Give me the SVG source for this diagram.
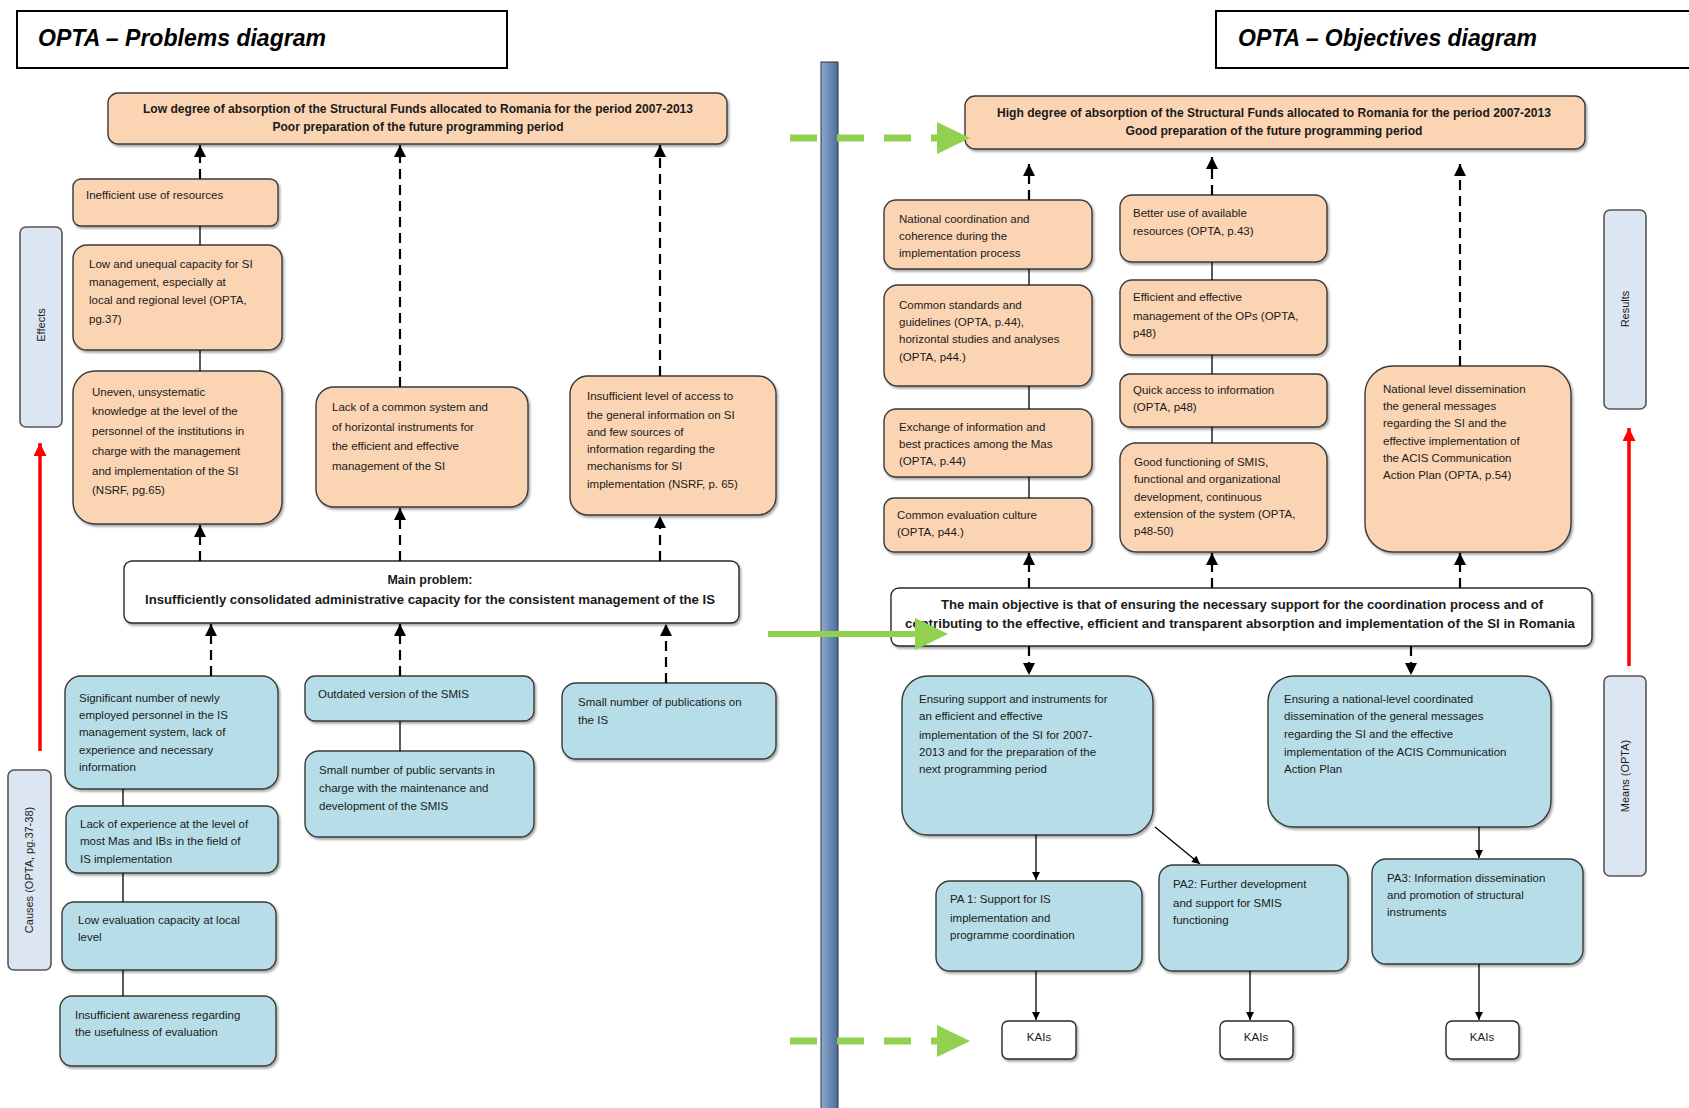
<svg xmlns="http://www.w3.org/2000/svg" width="1689" height="1108" viewBox="0 0 1689 1108">
<defs>
<style>
.o{fill:#fbd4b4;stroke:#3a3a3a;stroke-width:1.4;filter:url(#sh)}
.b{fill:#b7dee8;stroke:#3a3a3a;stroke-width:1.4;filter:url(#sh)}
.w{fill:#ffffff;stroke:#2a2a2a;stroke-width:1.4;filter:url(#sh)}
.lb{fill:#dce6f2;stroke:#555;stroke-width:1.6}
.t{font-family:"Liberation Sans",Arial,sans-serif;font-size:11.5px;fill:#1a1a1a}
.tb{font-family:"Liberation Sans",Arial,sans-serif;font-size:12px;font-weight:bold;fill:#1a1a1a}
.lt{font-family:"Liberation Sans",Arial,sans-serif;font-size:11px;fill:#1a1a1a}
.ti{font-family:"Liberation Sans",Arial,sans-serif;font-size:23px;font-weight:bold;font-style:italic;fill:#000}
.da{stroke:#000;stroke-width:2.2;stroke-dasharray:10 6;fill:none;marker-end:url(#ah)}
.sl{stroke:#000;stroke-width:1.3;fill:none}
.ta{stroke:#000;stroke-width:1.3;fill:none;marker-end:url(#ah2)}
.ra{stroke:#ff0000;stroke-width:3.5;fill:none;marker-end:url(#ahr)}
.gd{stroke:#92d050;stroke-width:7;stroke-dasharray:27 20;fill:none}
.gs{stroke:#92d050;stroke-width:6;fill:none}
.gh{fill:#92d050}
</style>
<filter id="sh" x="-5%" y="-5%" width="115%" height="120%">
<feDropShadow dx="1.5" dy="2" stdDeviation="1" flood-color="#000" flood-opacity="0.35"/>
</filter>
<marker id="ah" viewBox="0 0 10 10" refX="10" refY="5" markerWidth="15" markerHeight="12" markerUnits="userSpaceOnUse" orient="auto"><path d="M0,0 L10,5 L0,10 z" fill="#000"/></marker>
<marker id="ah2" viewBox="0 0 10 10" refX="10" refY="5" markerWidth="10" markerHeight="8" markerUnits="userSpaceOnUse" orient="auto"><path d="M0,0 L10,5 L0,10 z" fill="#000"/></marker>
<marker id="ahr" viewBox="0 0 10 10" refX="10" refY="5" markerWidth="13" markerHeight="13" markerUnits="userSpaceOnUse" orient="auto"><path d="M0,0 L10,5 L0,10 z" fill="#ff0000"/></marker>
<linearGradient id="bar" x1="0" y1="0" x2="1" y2="0">
<stop offset="0" stop-color="#8fa9d0"/>
<stop offset="1" stop-color="#4d6c9c"/>
</linearGradient>
</defs>
<rect width="1689" height="1108" fill="#ffffff"/>

<g id="title-left"><rect x="17" y="11" width="490" height="57" fill="#fff" stroke="#000" stroke-width="2"/><text class="ti" x="38" y="46" textLength="288" lengthAdjust="spacingAndGlyphs">OPTA – Problems diagram</text></g>
<g id="title-right"><rect x="1216" y="11" width="480" height="57" fill="#fff" stroke="#000" stroke-width="2"/><text class="ti" x="1238" y="46" textLength="299" lengthAdjust="spacingAndGlyphs">OPTA – Objectives diagram</text></g>

<g id="divider"><rect x="821" y="62" width="17" height="1050" fill="url(#bar)" stroke="#333" stroke-width="1"/></g>

<g id="effects-label"><rect class="lb" x="20" y="227" width="42" height="200" rx="6"/><text class="lt" transform="translate(45,325) rotate(-90)" text-anchor="middle">Effects</text></g>
<g id="causes-label"><rect class="lb" x="8" y="770" width="43" height="200" rx="6"/><text class="lt" transform="translate(33,870) rotate(-90)" text-anchor="middle">Causes (OPTA, pg.37-38)</text></g>
<g id="results-label"><rect class="lb" x="1604" y="210" width="42" height="199" rx="6"/><text class="lt" transform="translate(1629,309) rotate(-90)" text-anchor="middle">Results</text></g>
<g id="means-label"><rect class="lb" x="1604" y="676" width="42" height="200" rx="6"/><text class="lt" transform="translate(1629,776) rotate(-90)" text-anchor="middle">Means (OPTA)</text></g>

<g id="top-left"><rect class="o" x="108" y="93" width="619" height="51" rx="10"/><text class="tb" text-anchor="middle"><tspan x="418" y="113" textLength="550" lengthAdjust="spacingAndGlyphs">Low degree of absorption of the Structural Funds allocated to Romania for the period 2007-2013</tspan><tspan x="418" y="131" textLength="291" lengthAdjust="spacingAndGlyphs">Poor preparation of the future programming period</tspan></text></g>
<g id="e1"><rect class="o" x="73" y="179" width="205" height="47" rx="8"/><text class="t" x="86" y="199">Inefficient use of resources</text></g>
<g id="e2"><rect class="o" x="73" y="245" width="209" height="105" rx="14"/><text class="t"><tspan x="89" y="268">Low and unequal capacity for SI</tspan><tspan x="89" y="286">management, especially at</tspan><tspan x="89" y="304">local and regional level (OPTA,</tspan><tspan x="89" y="323">pg.37)</tspan></text></g>
<g id="e3"><rect class="o" x="73" y="371" width="209" height="153" rx="22"/><text class="t"><tspan x="92" y="396">Uneven, unsystematic</tspan><tspan x="92" y="415">knowledge at the level of the</tspan><tspan x="92" y="435">personnel of the institutions in</tspan><tspan x="92" y="455">charge with the management</tspan><tspan x="92" y="475">and implementation of the SI</tspan><tspan x="92" y="494">(NSRF, pg.65)</tspan></text></g>
<g id="e4"><rect class="o" x="316" y="387" width="212" height="120" rx="18"/><text class="t"><tspan x="332" y="411">Lack of a common system and</tspan><tspan x="332" y="431">of horizontal instruments for</tspan><tspan x="332" y="450">the efficient and effective</tspan><tspan x="332" y="470">management of the SI</tspan></text></g>
<g id="e5"><rect class="o" x="570" y="376" width="206" height="139" rx="18"/><text class="t"><tspan x="587" y="400">Insufficient level of access to</tspan><tspan x="587" y="419">the general information on SI</tspan><tspan x="587" y="436">and few sources of</tspan><tspan x="587" y="453">information regarding the</tspan><tspan x="587" y="470">mechanisms for SI</tspan><tspan x="587" y="488">implementation (NSRF, p. 65)</tspan></text></g>
<g id="main-problem"><rect class="w" x="124" y="561" width="615" height="62" rx="8"/><text class="tb" text-anchor="middle"><tspan x="430" y="584" textLength="85" lengthAdjust="spacingAndGlyphs">Main problem:</tspan><tspan x="430" y="604" textLength="570" lengthAdjust="spacingAndGlyphs">Insufficiently consolidated administrative capacity for the consistent management of the IS</tspan></text></g>
<g id="c1"><rect class="b" x="65" y="676" width="213" height="113" rx="16"/><text class="t"><tspan x="79" y="702">Significant number of newly</tspan><tspan x="79" y="719">employed personnel in the IS</tspan><tspan x="79" y="736">management system, lack of</tspan><tspan x="79" y="754">experience and necessary</tspan><tspan x="79" y="771">information</tspan></text></g>
<g id="c2"><rect class="b" x="66" y="806" width="212" height="67" rx="12"/><text class="t"><tspan x="80" y="828">Lack of experience at the level of</tspan><tspan x="80" y="845">most Mas and IBs in the field of</tspan><tspan x="80" y="863">IS implementation</tspan></text></g>
<g id="c3"><rect class="b" x="62" y="902" width="214" height="68" rx="12"/><text class="t"><tspan x="78" y="924">Low evaluation capacity at local</tspan><tspan x="78" y="941">level</tspan></text></g>
<g id="c4"><rect class="b" x="60" y="996" width="216" height="70" rx="12"/><text class="t"><tspan x="75" y="1019">Insufficient awareness regarding</tspan><tspan x="75" y="1036">the usefulness of evaluation</tspan></text></g>
<g id="c5"><rect class="b" x="305" y="676" width="229" height="45" rx="10"/><text class="t" x="318" y="698">Outdated version of the SMIS</text></g>
<g id="c6"><rect class="b" x="305" y="751" width="229" height="86" rx="14"/><text class="t"><tspan x="319" y="774">Small number of public servants in</tspan><tspan x="319" y="792">charge with the maintenance and</tspan><tspan x="319" y="810">development of the SMIS</tspan></text></g>
<g id="c7"><rect class="b" x="562" y="683" width="214" height="76" rx="14"/><text class="t"><tspan x="578" y="706">Small number of publications on</tspan><tspan x="578" y="724">the IS</tspan></text></g>

<g id="top-right"><rect class="o" x="965" y="96" width="620" height="53" rx="10"/><text class="tb" text-anchor="middle"><tspan x="1274" y="117" textLength="554" lengthAdjust="spacingAndGlyphs">High degree of absorption of the Structural Funds allocated to Romania for the period 2007-2013</tspan><tspan x="1274" y="135" textLength="297" lengthAdjust="spacingAndGlyphs">Good preparation of the future programming period</tspan></text></g>
<g id="r1"><rect class="o" x="884" y="200" width="208" height="69" rx="12"/><text class="t"><tspan x="899" y="223">National coordination and</tspan><tspan x="899" y="240">coherence during the</tspan><tspan x="899" y="257">implementation process</tspan></text></g>
<g id="r2"><rect class="o" x="884" y="285" width="208" height="101" rx="14"/><text class="t"><tspan x="899" y="309">Common standards and</tspan><tspan x="899" y="326">guidelines (OPTA, p.44),</tspan><tspan x="899" y="343">horizontal studies and analyses</tspan><tspan x="899" y="361">(OPTA, p44.)</tspan></text></g>
<g id="r3"><rect class="o" x="884" y="409" width="208" height="68" rx="12"/><text class="t"><tspan x="899" y="431">Exchange of information and</tspan><tspan x="899" y="448">best practices among the Mas</tspan><tspan x="899" y="465">(OPTA, p.44)</tspan></text></g>
<g id="r4"><rect class="o" x="884" y="498" width="208" height="54" rx="10"/><text class="t"><tspan x="897" y="519">Common evaluation culture</tspan><tspan x="897" y="536">(OPTA, p44.)</tspan></text></g>
<g id="r5"><rect class="o" x="1120" y="195" width="207" height="67" rx="12"/><text class="t"><tspan x="1133" y="217">Better use of available</tspan><tspan x="1133" y="235">resources (OPTA, p.43)</tspan></text></g>
<g id="r6"><rect class="o" x="1120" y="280" width="207" height="75" rx="12"/><text class="t"><tspan x="1133" y="301">Efficient and effective</tspan><tspan x="1133" y="320">management of the OPs (OPTA,</tspan><tspan x="1133" y="337">p48)</tspan></text></g>
<g id="r7"><rect class="o" x="1120" y="374" width="207" height="53" rx="10"/><text class="t"><tspan x="1133" y="394">Quick access to information</tspan><tspan x="1133" y="411">(OPTA, p48)</tspan></text></g>
<g id="r8"><rect class="o" x="1120" y="443" width="207" height="109" rx="16"/><text class="t"><tspan x="1134" y="466">Good functioning of SMIS,</tspan><tspan x="1134" y="483">functional and organizational</tspan><tspan x="1134" y="501">development, continuous</tspan><tspan x="1134" y="518">extension of the system (OPTA,</tspan><tspan x="1134" y="535">p48-50)</tspan></text></g>
<g id="r9"><rect class="o" x="1365" y="366" width="206" height="186" rx="28"/><text class="t"><tspan x="1383" y="393">National level dissemination</tspan><tspan x="1383" y="410">the general messages</tspan><tspan x="1383" y="427">regarding the SI and the</tspan><tspan x="1383" y="445">effective implementation of</tspan><tspan x="1383" y="462">the ACIS Communication</tspan><tspan x="1383" y="479">Action Plan (OPTA, p.54)</tspan></text></g>
<g id="main-objective"><rect class="w" x="891" y="588" width="701" height="58" rx="8"/><text class="tb" text-anchor="middle"><tspan x="1242" y="609" textLength="602" lengthAdjust="spacingAndGlyphs">The main objective is that of ensuring the necessary support for the coordination process and of</tspan><tspan x="1240" y="628" textLength="670" lengthAdjust="spacingAndGlyphs">contributing to the effective, efficient and transparent absorption and implementation of the SI in Romania</tspan></text></g>
<g id="m1"><rect class="b" x="902" y="676" width="251" height="159" rx="26"/><text class="t"><tspan x="919" y="703">Ensuring support and instruments for</tspan><tspan x="919" y="720">an efficient and effective</tspan><tspan x="919" y="739">implementation of the SI for 2007-</tspan><tspan x="919" y="756">2013 and for the preparation of the</tspan><tspan x="919" y="773">next programming period</tspan></text></g>
<g id="m2"><rect class="b" x="1268" y="676" width="283" height="151" rx="26"/><text class="t"><tspan x="1284" y="703">Ensuring a national-level coordinated</tspan><tspan x="1284" y="720">dissemination of the general messages</tspan><tspan x="1284" y="738">regarding the SI and the effective</tspan><tspan x="1284" y="756">implementation of the ACIS Communication</tspan><tspan x="1284" y="773">Action Plan</tspan></text></g>
<g id="pa1"><rect class="b" x="936" y="881" width="206" height="90" rx="14"/><text class="t"><tspan x="950" y="903">PA 1: Support for IS</tspan><tspan x="950" y="922">implementation and</tspan><tspan x="950" y="939">programme coordination</tspan></text></g>
<g id="pa2"><rect class="b" x="1159" y="865" width="189" height="106" rx="14"/><text class="t"><tspan x="1173" y="888">PA2: Further development</tspan><tspan x="1173" y="907">and support for SMIS</tspan><tspan x="1173" y="924">functioning</tspan></text></g>
<g id="pa3"><rect class="b" x="1372" y="859" width="211" height="105" rx="14"/><text class="t"><tspan x="1387" y="882">PA3: Information dissemination</tspan><tspan x="1387" y="899">and promotion of structural</tspan><tspan x="1387" y="916">instruments</tspan></text></g>
<g id="kai1"><rect class="w" x="1002" y="1021" width="74" height="38" rx="6"/><text class="t" x="1039" y="1041" text-anchor="middle">KAIs</text></g>
<g id="kai2"><rect class="w" x="1220" y="1021" width="73" height="38" rx="6"/><text class="t" x="1256" y="1041" text-anchor="middle">KAIs</text></g>
<g id="kai3"><rect class="w" x="1446" y="1021" width="73" height="38" rx="6"/><text class="t" x="1482" y="1041" text-anchor="middle">KAIs</text></g>

<g id="connectors">
<line class="da" x1="200" y1="179" x2="200" y2="145"/>
<line class="da" x1="400" y1="387" x2="400" y2="145"/>
<line class="da" x1="660" y1="376" x2="660" y2="145"/>
<line class="da" x1="200" y1="561" x2="200" y2="525"/>
<line class="da" x1="400" y1="561" x2="400" y2="508"/>
<line class="da" x1="660" y1="561" x2="660" y2="516"/>
<line class="da" x1="211" y1="676" x2="211" y2="624"/>
<line class="da" x1="400" y1="676" x2="400" y2="624"/>
<line class="da" x1="666" y1="683" x2="666" y2="624"/>
<line class="sl" x1="200" y1="226" x2="200" y2="245"/>
<line class="sl" x1="200" y1="350" x2="200" y2="371"/>
<line class="sl" x1="123" y1="789" x2="123" y2="806"/>
<line class="sl" x1="123" y1="873" x2="123" y2="902"/>
<line class="sl" x1="123" y1="970" x2="123" y2="996"/>
<line class="sl" x1="400" y1="721" x2="400" y2="751"/>
<line class="ra" x1="40" y1="751" x2="40" y2="443"/>
<line class="da" x1="1029" y1="200" x2="1029" y2="164"/>
<line class="da" x1="1212" y1="195" x2="1212" y2="157"/>
<line class="da" x1="1460" y1="366" x2="1460" y2="164"/>
<line class="da" x1="1029" y1="588" x2="1029" y2="553"/>
<line class="da" x1="1212" y1="588" x2="1212" y2="553"/>
<line class="da" x1="1460" y1="588" x2="1460" y2="553"/>
<line class="da" x1="1029" y1="646" x2="1029" y2="675"/>
<line class="da" x1="1411" y1="646" x2="1411" y2="675"/>
<line class="sl" x1="1029" y1="269" x2="1029" y2="285"/>
<line class="sl" x1="1029" y1="386" x2="1029" y2="409"/>
<line class="sl" x1="1029" y1="477" x2="1029" y2="498"/>
<line class="sl" x1="1212" y1="262" x2="1212" y2="280"/>
<line class="sl" x1="1212" y1="355" x2="1212" y2="374"/>
<line class="sl" x1="1212" y1="427" x2="1212" y2="443"/>
<line class="ta" x1="1036" y1="835" x2="1036" y2="880"/>
<line class="ta" x1="1155" y1="827" x2="1200" y2="864"/>
<line class="ta" x1="1479" y1="827" x2="1479" y2="858"/>
<line class="ta" x1="1036" y1="971" x2="1036" y2="1020"/>
<line class="ta" x1="1250" y1="971" x2="1250" y2="1020"/>
<line class="ta" x1="1479" y1="964" x2="1479" y2="1020"/>
<line class="ra" x1="1629" y1="666" x2="1629" y2="428"/>
<line class="gd" x1="790" y1="138" x2="937" y2="138"/>
<polygon class="gh" points="937,122 970,138 937,154"/>
<line class="gs" x1="768" y1="634" x2="916" y2="634"/>
<polygon class="gh" points="915,618 948,634 915,650"/>
<line class="gd" x1="790" y1="1041" x2="937" y2="1041"/>
<polygon class="gh" points="937,1025 970,1041 937,1057"/>
</g>
</svg>
